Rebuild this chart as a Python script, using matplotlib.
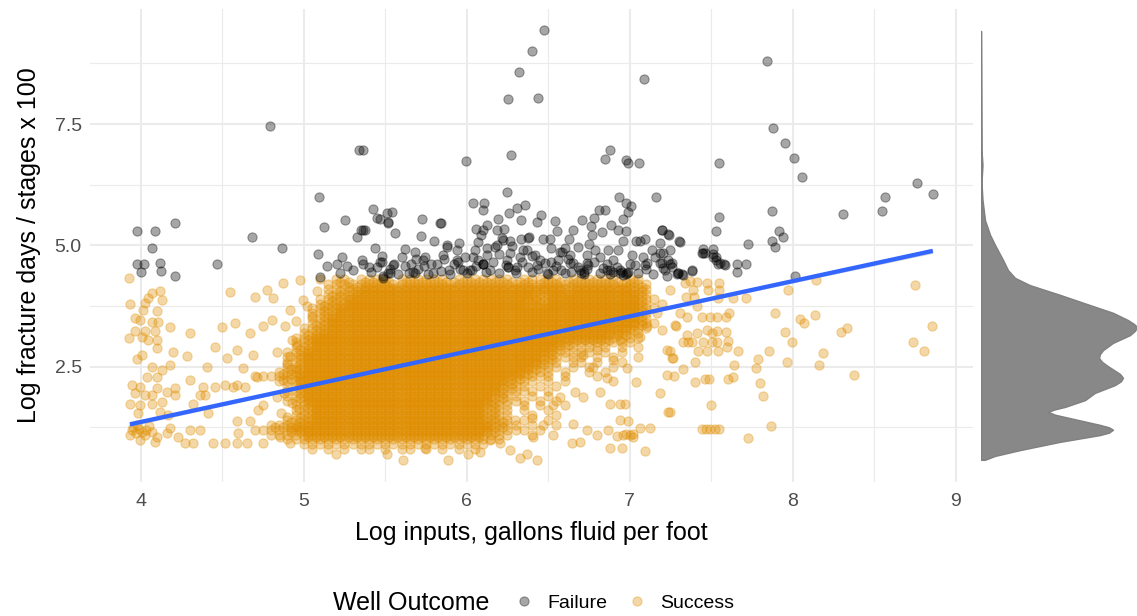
import numpy as np
import matplotlib
matplotlib.use("Agg")
import matplotlib.pyplot as plt
from matplotlib.lines import Line2D

plt.rcParams['font.family'] = ['Liberation Sans', 'DejaVu Sans']

# failed wells: (log fluid per foot, log frac days / stages x 100)
failure_pts = [
    (4.795, 7.45), (5.341, 6.97), (5.362, 6.97), (6.472, 9.43), (6.40, 9.00), (6.321, 8.58),
    (6.255, 8.02), (6.437, 8.04), (7.088, 8.42), (7.844, 8.80), (7.879, 7.42), (7.955, 7.10),
    (8.008, 6.81), (8.057, 6.40), (7.548, 6.69), (5.996, 6.73), (6.272, 6.86), (6.851, 6.79),
    (6.877, 6.96), (6.98, 6.76), (6.99, 6.70), (7.055, 6.69), (8.307, 5.64), (8.55, 5.71),
    (8.566, 6.00), (8.76, 6.29), (8.861, 6.06), (8.012, 4.37),
    (5.092, 6.00), (5.423, 5.75), (5.452, 5.56), (5.513, 5.66), (5.515, 5.47), (5.253, 5.53),
    (5.125, 5.37), (5.35, 5.32), (5.365, 5.32), (5.378, 5.32), (5.33, 5.17), (3.98, 5.30),
    (4.09, 5.30), (4.21, 5.46), (4.683, 5.18), (4.07, 4.95), (4.867, 4.95), (5.437, 4.95),
    (6.249, 6.10), (6.04, 5.87), (6.104, 5.87), (6.10, 5.72), (5.54, 5.68), (5.519, 5.48),
    (5.468, 5.55), (5.56, 5.25), (5.724, 5.55), (5.72, 5.20), (5.838, 5.47), (5.842, 5.46),
    (5.80, 5.10), (6.258, 5.66), (6.31, 5.78), (6.36, 5.83), (6.192, 5.55), (6.336, 5.53),
    (6.43, 5.49), (6.458, 5.63), (6.54, 5.51), (6.555, 5.30), (6.71, 5.53), (6.783, 5.57),
    (6.81, 5.73), (6.85, 5.73), (6.936, 6.00), (6.98, 5.88), (7.008, 5.82), (6.99, 5.68),
    (7.16, 6.00), (6.654, 5.32), (6.761, 5.39), (6.832, 5.28), (6.887, 5.42), (6.96, 5.55),
    (6.93, 5.32), (6.977, 5.29), (7.20, 5.32), (7.24, 5.22), (7.304, 5.08), (6.06, 5.33),
    (6.10, 5.32), (6.126, 5.42), (6.184, 5.32), (6.229, 5.33), (6.218, 5.15), (6.266, 5.08),
    (6.331, 5.13), (6.378, 5.15), (6.466, 5.13), (6.513, 5.13), (6.63, 5.13), (7.04, 5.10),
    (7.096, 5.13), (6.086, 5.22),
    (7.548, 5.59), (7.53, 5.30), (7.871, 5.71), (7.918, 5.30), (7.942, 5.17), (7.873, 5.09),
    (7.893, 4.96), (7.724, 5.02), (7.31, 5.07), (7.45, 4.93), (7.51, 4.93),
    (3.975, 4.62), (4.02, 4.62), (4.117, 4.63), (4.0, 4.45), (4.123, 4.47), (4.212, 4.37),
    (4.468, 4.62), (5.086, 4.82), (5.237, 4.77), (5.143, 4.58), (5.204, 4.62), (5.264, 4.58),
    (5.10, 4.34), (5.362, 4.62), (5.399, 4.56), (5.482, 4.66), (5.485, 4.37), (5.52, 4.44),
    (5.53, 4.51), (5.554, 4.62), (5.60, 4.75), (5.648, 4.44), (5.683, 4.87), (5.687, 4.71),
    (5.744, 4.75), (5.683, 4.44), (5.816, 4.62), (5.857, 4.80), (5.877, 4.97), (5.893, 4.49),
    (5.939, 4.91), (5.949, 4.66), (5.98, 4.49), (5.99, 4.77), (6.03, 4.49), (6.05, 4.91),
    (6.071, 4.70), (6.10, 4.62), (6.10, 4.62), (6.10, 4.62), (6.123, 4.80), (6.143, 4.49),
    (6.174, 4.97), (6.225, 5.11), (6.255, 4.56), (6.255, 4.56), (6.266, 4.84), (6.307, 4.56),
    (6.327, 4.77), (6.347, 4.91), (6.378, 4.56), (6.07, 5.06), (6.123, 4.94),
    (6.384, 5.18), (6.419, 4.80), (6.48, 4.63), (6.531, 4.49), (6.562, 4.69), (6.583, 4.87),
    (6.634, 4.80), (6.654, 4.63), (6.685, 4.97), (6.695, 4.49), (6.736, 4.80), (6.746, 4.60),
    (6.767, 5.22), (6.787, 4.91), (6.818, 4.77), (6.838, 4.53), (6.869, 4.91), (6.879, 4.49),
    (6.90, 4.70), (6.93, 4.91), (6.94, 4.49), (6.961, 5.08), (6.982, 4.43), (7.012, 4.80),
    (7.033, 4.60), (7.063, 5.08), (7.094, 4.60), (7.135, 4.91), (7.155, 4.77), (7.186, 4.84),
    (7.196, 4.63), (7.217, 4.49), (7.237, 4.70), (7.258, 4.56), (7.298, 4.43), (7.329, 4.39),
    (7.38, 4.49), (7.442, 4.84), (7.462, 4.84), (7.513, 4.77), (7.53, 4.70), (7.554, 4.63),
    (7.585, 4.60), (7.186, 5.04), (7.206, 4.53), (7.227, 4.36), (7.196, 5.32), (7.237, 5.23),
    (7.45, 4.84), (7.513, 4.82), (7.527, 4.76), (7.54, 4.62), (7.578, 4.62), (7.656, 4.62),
    (7.713, 4.62), (7.66, 4.45), (7.247, 4.91), (7.247, 4.62), (7.384, 4.48), (7.29, 4.40),
    (7.32, 4.40),
    (5.468, 4.66), (5.55, 4.60), (5.734, 4.70), (5.877, 5.01), (5.939, 4.70), (6.02, 4.49),
    (6.184, 5.01), (6.245, 4.70), (6.296, 4.49), (6.368, 4.91), (6.43, 4.60), (6.49, 4.43),
    (6.572, 4.87), (6.634, 4.63), (6.736, 4.63), (6.859, 4.49), (6.90, 4.46), (6.94, 4.43),
    (6.99, 4.46), (7.104, 4.63), (7.186, 4.63), (7.206, 4.84), (7.258, 4.63), (7.298, 4.43),
    (5.795, 4.43), (5.672, 4.46), (5.529, 4.43), (5.488, 4.32),
    (5.22, 4.42), (5.30, 4.50), (5.41, 4.45), (5.45, 4.55), (5.58, 4.40), (5.62, 4.58),
    (5.70, 4.52), (5.76, 4.40), (5.78, 4.62), (5.84, 4.48), (5.90, 4.40), (5.92, 4.62),
    (5.96, 4.52), (6.00, 4.42), (6.06, 4.58), (6.12, 4.45), (6.16, 4.66), (6.20, 4.42),
    (6.24, 4.60), (6.30, 4.42), (6.34, 4.66), (6.40, 4.45), (6.45, 4.70), (6.50, 4.40),
    (6.55, 4.58), (6.60, 4.42), (6.62, 4.72), (6.68, 4.55), (6.72, 4.40), (6.78, 4.66),
    (6.82, 4.42), (6.86, 4.62), (6.92, 4.55), (6.96, 4.38), (7.00, 4.62), (7.05, 4.42),
    (7.10, 4.52), (7.14, 4.40), (6.70, 4.42), (6.72, 4.45), (6.98, 4.40), (6.95, 4.45),
    (5.66, 4.62), (5.74, 4.58), (6.44, 4.52), (6.52, 4.66), (6.58, 4.50), (6.64, 4.46),
    (6.74, 4.52), (6.88, 4.40), (5.86, 4.72), (6.04, 4.75), (6.20, 4.82), (6.40, 4.78),
    (6.60, 4.95), (6.75, 5.02), (5.62, 4.92), (5.48, 4.78), (5.36, 4.70), (5.95, 5.05),
    (6.28, 4.98), (6.52, 4.95), (7.08, 4.75),
]

# successful wells outside the dense core
success_pts = [
    (3.930, 4.32), (4.067, 4.01), (4.047, 3.91), (4.026, 3.81), (4.118, 4.05), (4.129, 3.87),
    (3.934, 3.79), (4.016, 3.67), (4.098, 3.65), (3.965, 3.50), (3.996, 3.46), (4.067, 3.43),
    (4.108, 3.43), (3.965, 3.24), (4.026, 3.24), (4.088, 3.24), (4.18, 3.31), (3.93, 3.10),
    (4.006, 3.12), (4.047, 3.05), (4.098, 3.05), (4.098, 2.88), (4.20, 2.81), (3.975, 2.65),
    (4.006, 2.74), (4.282, 2.72), (4.067, 2.50), (4.129, 2.43), (4.18, 2.53), (4.098, 2.29),
    (4.036, 2.29), (3.945, 2.12), (3.996, 2.09), (4.026, 1.92), (3.965, 1.95), (4.067, 1.92),
    (4.098, 2.05), (4.16, 1.98), (4.21, 2.05), (4.21, 1.92), (3.934, 1.74), (3.996, 1.71),
    (3.986, 1.54), (4.067, 1.74), (4.129, 1.78), (4.118, 1.57), (4.17, 1.50), (3.975, 1.30),
    (3.945, 1.20), (4.006, 1.16), (4.067, 1.16), (4.098, 1.06), (3.996, 0.99), (4.16, 1.13),
    (4.231, 1.06), (4.272, 0.92), (4.323, 0.92), (3.934, 1.09), (4.026, 1.09), (4.088, 0.95),
    (4.18, 1.23), (3.95, 1.25), (3.99, 1.22), (4.03, 1.20), (4.05, 1.27), (3.97, 1.14),
    (4.302, 2.23), (4.384, 2.09), (4.394, 1.92), (4.456, 2.91), (4.456, 2.09), (4.497, 3.31),
    (4.527, 2.67), (4.548, 4.03), (4.578, 3.41), (4.589, 2.84), (4.589, 2.12), (4.63, 2.47),
    (4.64, 2.09), (4.67, 3.19), (4.691, 2.74), (4.701, 3.94), (4.711, 2.29), (4.752, 3.33),
    (4.752, 1.71), (4.773, 4.08), (4.804, 3.46), (4.813, 3.91), (4.834, 2.81), (4.323, 1.74),
    (4.302, 1.20), (4.364, 1.20), (4.446, 0.92), (4.517, 0.92), (4.589, 1.37), (4.589, 0.92),
    (4.599, 1.13), (4.65, 0.92), (4.67, 1.37), (4.722, 1.61), (4.752, 0.92), (4.405, 2.50),
    (4.517, 2.12), (4.568, 2.09), (4.415, 1.54), (4.302, 3.19), (4.364, 1.92), (4.875, 4.22),
    (4.916, 3.67), (4.977, 4.29), (4.998, 3.87), (4.885, 3.33), (4.916, 2.71), (4.875, 2.23),
    (4.834, 1.88), (4.895, 1.47), (4.855, 1.06), (4.916, 0.92), (4.957, 1.26), (5.20, 0.71),
    (4.93, 3.05), (4.96, 2.95), (4.90, 2.55), (4.95, 2.45), (4.88, 1.95), (4.93, 1.75),
    (4.97, 1.62), (4.86, 1.55), (5.05, 3.55), (5.02, 3.75), (5.08, 4.05), (4.95, 3.45),
    (7.063, 3.12), (7.104, 3.33), (7.165, 3.60), (7.196, 3.26), (7.247, 4.08), (7.278, 3.36),
    (7.227, 2.84), (7.257, 2.67), (7.186, 1.95), (7.237, 1.57), (7.227, 2.33), (7.038, 2.19),
    (6.981, 2.47), (6.90, 2.64), (6.94, 3.05), (6.797, 2.84), (6.715, 2.74), (6.858, 2.26),
    (6.777, 2.50), (6.818, 1.98), (6.715, 1.88), (6.94, 1.74), (6.971, 1.74), (6.879, 1.74),
    (6.664, 1.98), (6.572, 1.88), (6.531, 1.71), (6.398, 1.44), (6.47, 1.30), (6.654, 1.32),
    (6.736, 1.20), (6.797, 1.09), (6.869, 1.20), (6.94, 1.40), (6.992, 1.37), (7.022, 1.06),
    (7.063, 1.23), (7.124, 1.23), (6.644, 0.92), (6.695, 0.95), (6.879, 0.82), (6.951, 0.82),
    (7.094, 0.77), (6.265, 0.78), (6.327, 0.61), (6.429, 0.58), (6.368, 0.71), (6.204, 0.92),
    (6.143, 0.99), (5.887, 0.58), (5.744, 0.82), (5.611, 0.58), (5.509, 0.71), (6.081, 0.75),
    (6.01, 0.71), (6.296, 1.40), (6.409, 1.06), (6.531, 1.09),
    (6.96, 1.10), (6.98, 1.12), (7.00, 1.10), (6.92, 1.08), (7.02, 1.12),
    (7.339, 4.22), (7.37, 4.27), (7.415, 4.25), (7.472, 4.23), (7.548, 4.22), (7.39, 4.09),
    (7.478, 4.09), (7.55, 4.09), (7.345, 3.93), (7.394, 3.93), (7.544, 3.91), (7.636, 3.91),
    (7.713, 3.91), (7.41, 3.74), (7.308, 3.61), (7.349, 3.52), (7.441, 3.52), (7.492, 3.52),
    (7.533, 3.52), (7.59, 3.52), (7.611, 3.60), (7.284, 3.34), (7.349, 3.15), (7.41, 3.19),
    (7.472, 3.26), (7.502, 3.19), (7.533, 3.24), (7.59, 3.22), (7.329, 3.00), (7.359, 3.00),
    (7.38, 3.00), (7.451, 3.00), (7.502, 3.00), (7.533, 3.00), (7.605, 3.02), (7.599, 2.91),
    (7.544, 2.83), (7.472, 2.83), (7.421, 2.83), (7.666, 2.82), (7.247, 2.82), (7.267, 2.67),
    (7.40, 2.59), (7.64, 2.53), (7.325, 2.45), (7.272, 2.31), (7.40, 2.18), (7.462, 2.25),
    (7.488, 2.25), (7.605, 2.25), (7.631, 2.28), (7.496, 1.72), (7.247, 1.57), (7.441, 1.21),
    (7.468, 1.21), (7.492, 1.21), (7.523, 1.21), (7.55, 1.21), (7.724, 1.02), (7.865, 1.28),
    (7.773, 2.47), (7.797, 2.16), (7.82, 1.90), (7.789, 2.65), (7.854, 2.83), (7.891, 3.61),
    (7.952, 3.22), (7.998, 3.00), (7.963, 2.59), (8.045, 3.48), (8.071, 3.40), (8.137, 3.57),
    (8.184, 2.78), (8.163, 2.53), (7.973, 4.09), (8.14, 4.29), (8.294, 3.22), (8.331, 3.30),
    (8.378, 2.33), (8.752, 4.19), (8.854, 3.34), (8.736, 3.00), (8.805, 2.82),
]

# dense core of successful wells: one row per y level, one char per 0.05 step in x
# starting at x = 4.70; the digit is how many wells sit in that cell
core_x0 = 4.70
core_dx = 0.05
core_dy = 0.1
core_rows = {
    4.3: "0000000010 1101111011 1111011111 1101111101 1111101100 000",
    4.2: "0000000001 2212222122 2222222222 2222122222 2222222110 000",
    4.1: "0000000001 1223333333 3333333333 3333333323 3333332210 000",
    4.0: "0000000001 2233333333 3333333333 3333223333 3333333210 000",
    3.9: "0000000012 2333333333 3333333333 3333323333 3333333211 000",
    3.8: "0000000012 2333333333 3333333333 3332223333 3333333210 100",
    3.7: "0000000122 3333333333 3333333333 3333333333 3333333211 000",
    3.6: "0000000122 3333333333 3333333333 3333333333 3333333210 000",
    3.5: "0000000123 3333333333 3333333333 3333333333 3333333210 000",
    3.4: "0000000123 3333333333 3333333333 3333333333 3333333211 000",
    3.3: "0000001223 3333333333 3333333333 3333333333 3333332210 000",
    3.2: "0000001233 3333333333 3333333333 3333333333 3333322100 000",
    3.1: "0000012333 3333333333 3333333333 3333333333 3332221100 000",
    3.0: "0000012333 3333333333 3333333333 3333333322 2222111000 000",
    2.9: "0000012333 3333333333 3333333333 3333333221 1111010100 000",
    2.8: "0000123333 3333333333 3333333333 3333332211 1101010000 000",
    2.7: "0000123333 3333333333 3333333333 3333322111 1010100100 000",
    2.6: "0000123333 3333333333 3333333333 3333322101 1010010000 000",
    2.5: "0000123333 3333333333 3333333333 3333221101 0100100000 000",
    2.4: "0001223333 3333333333 3333333333 3332211010 0101000000 000",
    2.3: "1112233333 3333333333 3333333333 3322111010 0010000000 000",
    2.2: "0001233333 3333333333 3333333333 3221101010 0000100000 000",
    2.1: "0000123333 3333333333 3333333333 2211010100 0000000000 000",
    2.0: "0000123333 3333333333 3333333333 2211101000 0000000000 000",
    1.9: "0000123333 3333333333 3333333332 2110101000 0000000000 000",
    1.8: "0000123333 3333333333 3333333332 2111010100 0000000000 000",
    1.7: "0000012333 3333333333 3333333322 1101010010 0000000000 000",
    1.6: "0000012333 3333333333 3333333322 1101001000 0000000000 000",
    1.5: "0000012333 3333333333 3333333322 1100100100 0000000000 000",
    1.4: "0000122333 3333333333 3333333322 1101001000 0000000000 000",
    1.3: "0011223333 3333333333 3333333332 2110100100 0000000000 000",
    1.2: "1122333333 3333333333 3333333332 2111010000 0000000000 000",
    1.1: "0011223333 3333333333 3333333322 1100100000 0000000000 000",
    1.0: "0000112222 2222222222 2222222211 1000000000 0000000000 000",
    0.9: "0000001111 1111111111 1111111110 0000000000 0000000000 000",
    0.8: "0000000101 0101101011 0101010100 0000000000 0000000000 000",
}
# where the k-th well of a cell sits, as a fraction of the cell size
cell_slots = [(0.0, 0.0), (0.5, 0.5), (0.5, 0.0), (0.0, 0.5)]

# linear fit and its standard-error ribbon
fit_x = [3.934, 8.859]
fit_y = [1.312, 4.886]
band_x = [3.934, 6.0, 8.859]
band_half = [0.045, 0.015, 0.05]

# marginal density of the y values (relative width)
density_y = [9.42, 6.97, 6.66, 6.29, 5.94, 5.52, 5.22, 5.01, 4.70, 4.49, 4.33, 4.18, 3.98,
             3.77, 3.61, 3.46, 3.38, 3.32, 3.24, 3.15, 2.99, 2.84, 2.76, 2.68, 2.60, 2.51,
             2.35, 2.27, 2.20, 2.12, 1.96, 1.81, 1.67, 1.62, 1.57, 1.51, 1.44, 1.30, 1.25,
             1.20, 1.14, 1.09, 0.95, 0.78, 0.66, 0.58]
density_w = [0, 0.5, 1.5, 0.5, 1.5, 4, 9, 14, 22, 27, 34, 49, 79, 109, 132, 147, 153, 156,
             154, 149, 132, 122, 119, 118, 121, 127, 139, 142, 140, 134, 114, 104, 84, 74,
             67, 74, 89, 119, 128, 132, 128, 119, 79, 39, 14, 4]

x_ticks = [4, 5, 6, 7, 8, 9]
y_ticks = [2.5, 5.0, 7.5]
outcomes = ["Failure", "Success"]
outcome_colors = {"Failure": "#000000", "Success": "#E08E00"}

# expand the core map into individual wells
core_x, core_y = [], []
for y, row in core_rows.items():
    for i, c in enumerate(row.replace(" ", "")):
        for k in range(int(c)):
            fx, fy = cell_slots[k % len(cell_slots)]
            core_x.append(core_x0 + (i + fx) * core_dx)
            core_y.append(y + fy * core_dy)

succ = np.array(success_pts)
fail = np.array(failure_pts)
succ_x = np.concatenate([succ[:, 0], core_x])
succ_y = np.concatenate([succ[:, 1], core_y])

W, H = 1137, 616
fig = plt.figure(figsize=(W / 100, H / 100), dpi=100)
left, right, top, bottom = 90, 972.7, 9.3, 481.7
ax = fig.add_axes([left / W, 1 - bottom / H, (right - left) / W, (bottom - top) / H])
ax_d = fig.add_axes([981 / W, 1 - bottom / H, 156 / W, (bottom - top) / H])

pt_kw = dict(s=44, alpha=0.35, linewidths=0.8, zorder=3)
ax.scatter(succ_x, succ_y, color=outcome_colors["Success"], **pt_kw)
ax.scatter(fail[:, 0], fail[:, 1], color=outcome_colors["Failure"], **pt_kw)

bx = np.array(band_x)
by = fit_y[0] + (bx - fit_x[0]) * (fit_y[1] - fit_y[0]) / (fit_x[1] - fit_x[0])
ax.fill_between(bx, by - np.array(band_half), by + np.array(band_half),
                color="#999999", alpha=0.4, lw=0, zorder=4)
ax.plot(fit_x, fit_y, color="#3366FF", lw=3.1, solid_capstyle="butt", zorder=5)

ax.set_xlim(3.689, 9.104)
ax.set_ylim(0.129, 9.865)
ax.set_xticks(x_ticks)
ax.set_xticklabels([str(t) for t in x_ticks])
ax.set_yticks(y_ticks)
ax.set_yticklabels([f"{t:.1f}" for t in y_ticks])
ax.set_xticks([4.5, 5.5, 6.5, 7.5, 8.5], minor=True)
ax.set_yticks([1.25, 3.75, 6.25, 8.75], minor=True)
ax.grid(which="major", color="#EBEBEB", lw=1.5, zorder=0)
ax.grid(which="minor", color="#EBEBEB", lw=0.8, zorder=0)
ax.set_axisbelow(True)
for s in ax.spines.values():
    s.set_visible(False)
ax.tick_params(which="both", length=0, labelsize=14, labelcolor="#4D4D4D")
ax.tick_params(axis="x", pad=8)
ax.tick_params(axis="y", pad=6)
ax.set_xlabel("Log inputs, gallons fluid per foot", fontsize=18, labelpad=8)
ax.set_ylabel("Log fracture days / stages x 100", fontsize=18, labelpad=10)

ax_d.fill_betweenx(density_y, 0, density_w, facecolor="#888888", edgecolor="#808080", lw=1.0)
ax_d.set_xlim(0, 156)
ax_d.set_ylim(ax.get_ylim())
ax_d.axis("off")

# legend along the bottom
fig.text(333 / W, 1 - 603 / H, "Well Outcome", fontsize=18, ha="left", va="center")
handles = [Line2D([], [], ls="", marker="o", markersize=6.6, alpha=0.35,
                  color=outcome_colors[o], markeredgewidth=0.8) for o in outcomes]
fig.legend(handles, outcomes, loc="center left", bbox_to_anchor=(505 / W, 1 - 603 / H),
           ncol=2, frameon=False, fontsize=14, handletextpad=0.6, columnspacing=0.9,
           borderaxespad=0, handlelength=1.2)

fig.savefig("out.png", dpi=100)
